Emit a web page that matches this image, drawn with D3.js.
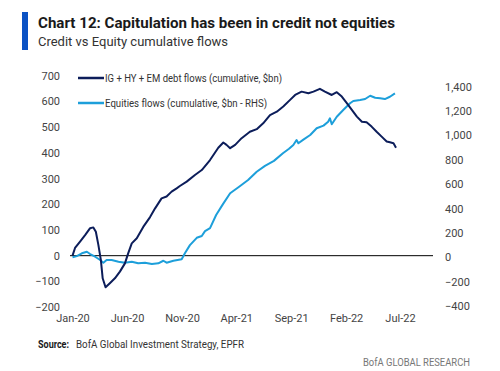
<!DOCTYPE html>
<html>
  <head>
    <meta charset="utf-8">
    <title>Credit vs Equity cumulative flows</title>
    <script src="https://cdn.jsdelivr.net/npm/d3@7"></script>
    <style>
      body { margin: 0; background: #fff; }
      svg text { font-family: "Roboto", "Liberation Sans", sans-serif; }
    </style>
  </head>
  <body>
    <div id="chart"></div>
    <script>
      // credit flows (IG + HY + EM), $bn, left axis
      var creditDates = ["2020-01-01","2020-01-08","2020-01-22","2020-02-05","2020-02-19","2020-02-28","2020-03-06","2020-03-13","2020-03-20","2020-03-25","2020-04-02","2020-04-14","2020-04-28","2020-05-12","2020-05-26","2020-06-04","2020-06-14","2020-06-28","2020-07-16","2020-08-04","2020-08-18","2020-09-05","2020-09-19","2020-10-03","2020-10-17","2020-10-26","2020-11-14","2020-12-07","2020-12-26","2021-01-18","2021-02-10","2021-02-24","2021-03-05","2021-03-15","2021-03-29","2021-04-16","2021-05-09","2021-05-28","2021-06-15","2021-07-04","2021-07-23","2021-08-10","2021-08-29","2021-09-12","2021-09-30","2021-10-19","2021-11-02","2021-11-20","2021-12-04","2021-12-23","2022-01-06","2022-01-20","2022-02-03","2022-02-17","2022-03-03","2022-03-17","2022-03-30","2022-04-13","2022-04-27","2022-05-11","2022-05-25","2022-06-03","2022-06-13","2022-06-20"];
      var creditValues = [0,30,55,80,107,110,93,42,-17,-88,-123,-107,-88,-62,-30,9,48,68,112,150,184,223,230,249,262,271,288,314,333,372,420,440,431,418,431,457,482,492,515,547,560,580,606,625,638,632,638,649,638,625,636,619,593,567,541,521,519,502,482,463,444,441,437,420];

      // equity flows, $bn, right axis
      var equityDates = ["2020-01-01","2020-01-13","2020-01-27","2020-02-10","2020-02-19","2020-03-04","2020-03-18","2020-03-27","2020-04-05","2020-04-19","2020-05-08","2020-05-26","2020-06-14","2020-07-02","2020-07-21","2020-08-09","2020-08-27","2020-09-10","2020-09-19","2020-10-08","2020-10-31","2020-11-09","2020-11-23","2020-12-12","2020-12-26","2021-01-04","2021-01-18","2021-02-04","2021-02-23","2021-03-15","2021-04-09","2021-05-04","2021-05-28","2021-06-20","2021-07-15","2021-08-09","2021-08-26","2021-09-07","2021-09-16","2021-09-21","2021-10-05","2021-10-24","2021-11-11","2021-11-30","2021-12-13","2021-12-18","2021-12-23","2022-01-06","2022-01-24","2022-02-12","2022-02-21","2022-03-12","2022-03-26","2022-04-09","2022-04-23","2022-05-07","2022-05-20","2022-06-03","2022-06-17"];
      var equityValues = [0,10,33,46,27,5,-22,-44,-22,-22,-36,-44,-36,-49,-44,-55,-49,-28,-44,-28,-16,33,100,160,175,215,240,347,436,525,579,634,702,750,791,853,890,921,962,935,965,1003,1058,1080,1112,1140,1091,1153,1208,1263,1282,1290,1298,1325,1309,1304,1298,1317,1345];

      var xTickDates = ["2020-01-01","2020-06-01","2020-11-01","2021-04-01","2021-09-01","2022-02-01","2022-07-01"];
      var leftTicks = [-200,-100,0,100,200,300,400,500,600,700];
      var rightTicks = [-400,-200,0,200,400,600,800,1000,1200,1400];
      var seriesNames = ["IG + HY + EM debt flows (cumulative, $bn)", "Equities flows (cumulative, $bn - RHS)"];

      var parse = d3.timeParse("%Y-%m-%d");
      var credit = creditDates.map(function(d, i) { return { date: parse(d), value: creditValues[i] }; });
      var equity = equityDates.map(function(d, i) { return { date: parse(d), value: equityValues[i] }; });

      var width = 500, height = 371;
      var navy = "#0c1d5a", sky = "#1d9fda";

      var svg = d3.select("#chart").append("svg")
        .attr("width", width)
        .attr("height", height);

      // scales
      var x = d3.scaleTime()
        .domain([parse("2019-12-25"), parse("2022-10-01")])
        .range([70, 433]);
      var yL = d3.scaleLinear().domain([-200, 700]).range([307.1, 75.7]);
      var yR = d3.scaleLinear().domain([-400, 1400]).range([306.1, 86.6]);

      // header
      svg.append("rect").attr("x", 22).attr("y", 12).attr("width", 6).attr("height", 38).attr("fill", "#0b52c4");
      svg.append("text").attr("x", 38).attr("y", 28)
        .attr("font-size", 15).attr("font-weight", "bold").attr("fill", "#1a1a1a")
        .attr("textLength", 357).attr("lengthAdjust", "spacingAndGlyphs")
        .text("Chart 12: Capitulation has been in credit not equities");
      svg.append("text").attr("x", 38).attr("y", 46)
        .attr("font-size", 13).attr("fill", "#333")
        .attr("textLength", 190).attr("lengthAdjust", "spacingAndGlyphs")
        .text("Credit vs Equity cumulative flows");

      // axes, no lines or ticks, just labels
      var gl = svg.append("g").attr("transform", "translate(60,0)")
        .call(d3.axisLeft(yL).tickValues(leftTicks).tickSize(0).tickPadding(0).tickFormat(d3.format("d")));
      var gr = svg.append("g").attr("transform", "translate(445,0)")
        .call(d3.axisRight(yR).tickValues(rightTicks).tickSize(0).tickPadding(0).tickFormat(d3.format(",")));
      var gx = svg.append("g").attr("transform", "translate(0,314)")
        .call(d3.axisBottom(x).tickValues(xTickDates.map(parse)).tickSize(0).tickPadding(0).tickFormat(d3.timeFormat("%b-%y")));
      [gl, gr, gx].forEach(function(g) {
        g.select(".domain").remove();
        g.selectAll("text").attr("font-size", 11).attr("fill", "#444")
          .style("font-family", "Roboto, sans-serif");
      });

      // zero line
      svg.append("line")
        .attr("x1", x.range()[0]).attr("x2", x.range()[1])
        .attr("y1", yL(0)).attr("y2", yL(0))
        .attr("stroke", "#000").attr("stroke-width", 1);

      // lines
      svg.append("path").datum(equity)
        .attr("fill", "none").attr("stroke", sky).attr("stroke-width", 2)
        .attr("stroke-linejoin", "round")
        .attr("d", d3.line().x(function(d) { return x(d.date); }).y(function(d) { return yR(d.value); }));
      svg.append("path").datum(credit)
        .attr("fill", "none").attr("stroke", navy).attr("stroke-width", 2)
        .attr("stroke-linejoin", "round")
        .attr("d", d3.line().x(function(d) { return x(d.date); }).y(function(d) { return yL(d.value); }));

      // legend
      var legendLen = [177, 162];
      var legend = svg.append("g");
      [navy, sky].forEach(function(c, i) {
        var yy = 78 + i * 25;
        legend.append("line").attr("x1", 78).attr("x2", 104).attr("y1", yy).attr("y2", yy)
          .attr("stroke", c).attr("stroke-width", 2.5);
        legend.append("text").attr("x", 105).attr("y", yy).attr("dy", "0.35em")
          .attr("font-size", 11.5).attr("fill", "#333")
          .attr("textLength", legendLen[i]).attr("lengthAdjust", "spacingAndGlyphs")
          .text(seriesNames[i]);
      });

      // footer
      svg.append("text").attr("x", 38).attr("y", 348)
        .attr("font-size", 11).attr("font-weight", "bold").attr("fill", "#1a1a1a")
        .attr("textLength", 31).attr("lengthAdjust", "spacingAndGlyphs")
        .text("Source:");
      svg.append("text").attr("x", 76).attr("y", 348)
        .attr("font-size", 11).attr("fill", "#333")
        .attr("textLength", 168).attr("lengthAdjust", "spacingAndGlyphs")
        .text("BofA Global Investment Strategy, EPFR");
      svg.append("text").attr("x", 470).attr("y", 366).attr("text-anchor", "end")
        .attr("font-size", 11).attr("fill", "#777")
        .attr("textLength", 107).attr("lengthAdjust", "spacingAndGlyphs")
        .text("BofA GLOBAL RESEARCH");
    </script>
  </body>
</html>
